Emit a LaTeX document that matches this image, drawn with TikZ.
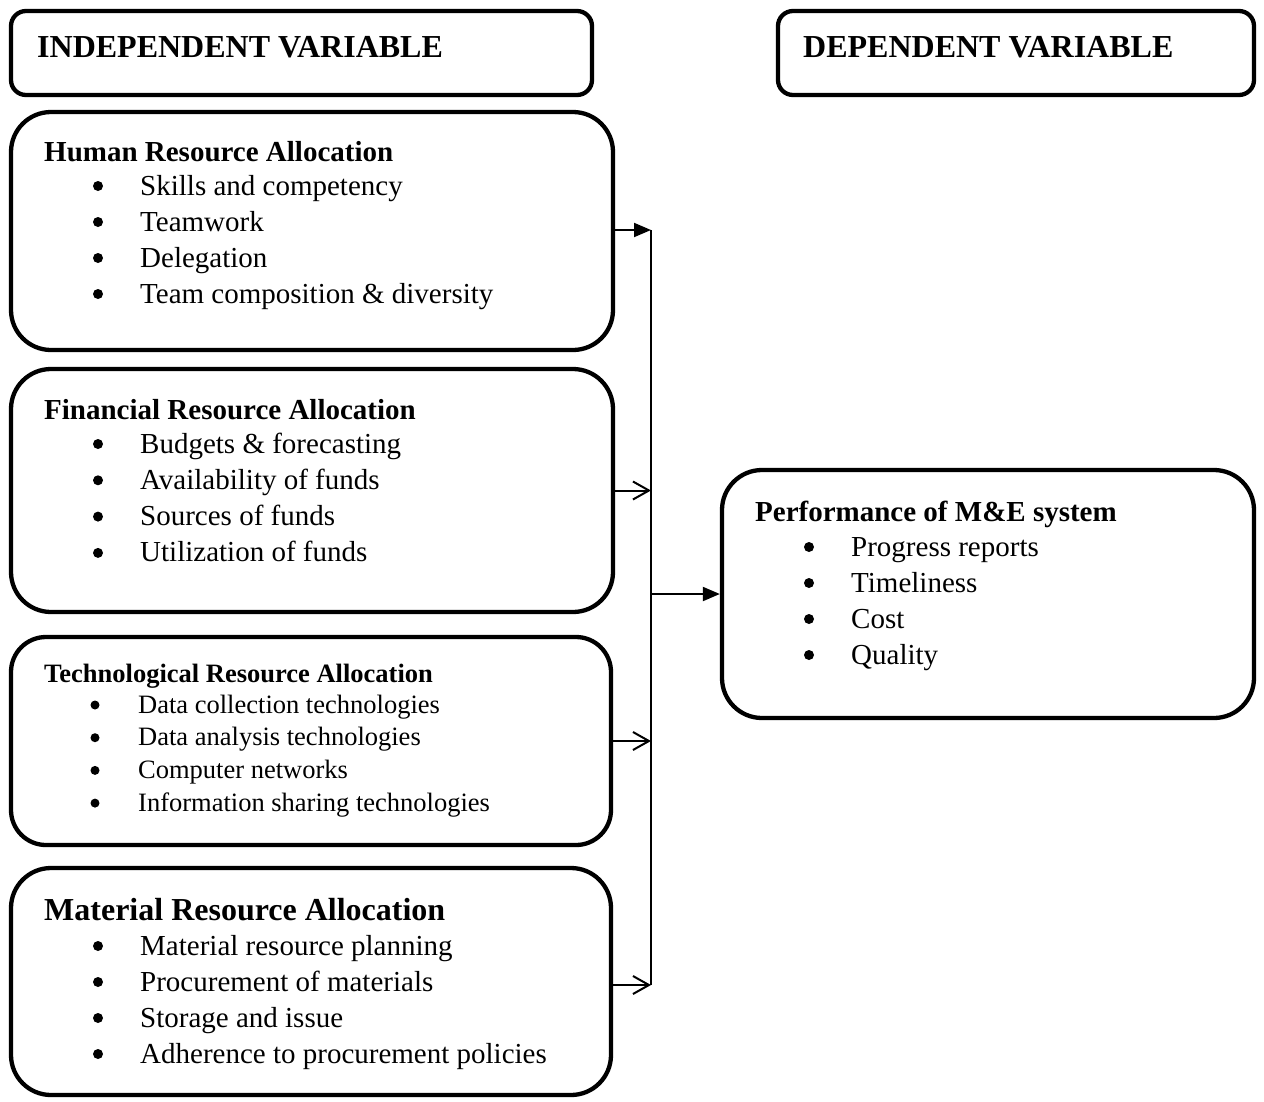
\documentclass[tikz,border=0pt]{standalone}
\usepackage{fontspec}
\setmainfont{Liberation Serif}
\usetikzlibrary{arrows.meta}
\begin{document}
\begin{tikzpicture}[x=1pt,y=-1pt,
  box/.style={draw,line width=4.3pt,rounded corners=40pt,inner sep=0pt},
  hbox/.style={box,rounded corners=15pt},
  txt/.style={anchor=base west,inner sep=0pt,font=\fontsize{29pt}{36pt}\selectfont},
  ttl/.style={txt,font=\fontsize{29pt}{36pt}\selectfont\bfseries},
  big/.style={txt,font=\fontsize{32pt}{38pt}\selectfont\bfseries},
  sm/.style={txt,font=\fontsize{26.5pt}{32pt}\selectfont},
  smt/.style={txt,font=\fontsize{26.5pt}{32pt}\selectfont\bfseries},
  bul/.style={circle,fill,inner sep=0pt,minimum size=10pt},
  sbul/.style={circle,fill,inner sep=0pt,minimum size=9pt},
  conn/.style={line width=2pt},
  fillarrow/.style={conn,-{Triangle[length=17pt,width=14pt]}},
  openarrow/.style={conn,-{Straight Barb[length=16pt,width=18pt,line width=2pt]}}]
\fill[white] (0,0) rectangle (1264,1101);
\useasboundingbox (0,0) rectangle (1264,1101);

% header boxes
\node[hbox,minimum width=581pt,minimum height=84pt] (ivh) at (301.5,53) {};
\node[big] (ivt) at (37,57) {INDEPENDENT VARIABLE};
\node[hbox,minimum width=476pt,minimum height=84pt] (dvh) at (1016,53) {};
\node[big] (dvt) at (803,57) {DEPENDENT VARIABLE};

% Human
\node[box,minimum width=602pt,minimum height=238pt] (hum) at (312,231) {};
\node[ttl] (humt) at (44,161) {Human Resource Allocation};
\foreach \t [count=\i] in {Skills and competency, Teamwork, Delegation, Team composition \& diversity}{
  \node[bul] (hb\i) at (98,{186+36*(\i-1)}) {};
  \node[txt] (hi\i) at (140,{195+36*(\i-1)}) {\t};
}

% Financial
\node[box,minimum width=602pt,minimum height=243pt] (fin) at (312,490.5) {};
\node[ttl] (fint) at (44,419) {Financial Resource Allocation};
\foreach \t [count=\i] in {Budgets \& forecasting, Availability of funds, Sources of funds, Utilization of funds}{
  \node[bul] (fb\i) at (98,{444+36.3*(\i-1)}) {};
  \node[txt] (fi\i) at (140,{453+36.3*(\i-1)}) {\t};
}

% Technological
\node[box,rounded corners=35pt,minimum width=600pt,minimum height=208pt] (tec) at (311,741) {};
\node[smt] (tect) at (44,682) {Technological Resource Allocation};
\foreach \t [count=\i] in {Data collection technologies, Data analysis technologies, Computer networks, Information sharing technologies}{
  \node[sbul] (tb\i) at (95,{705+32.7*(\i-1)}) {};
  \node[sm] (ti\i) at (138,{713+32.7*(\i-1)}) {\t};
}

% Material
\node[box,minimum width=600pt,minimum height=227pt] (mat) at (311,981.5) {};
\node[big] (matt) at (44,920) {Material Resource Allocation};
\foreach \t [count=\i] in {Material resource planning, Procurement of materials, Storage and issue, Adherence to procurement policies}{
  \node[bul] (mb\i) at (98,{946+36*(\i-1)}) {};
  \node[txt] (mi\i) at (140,{955+36*(\i-1)}) {\t};
}

% Performance
\node[box,minimum width=532pt,minimum height=248pt] (perf) at (988,594) {};
\node[ttl] (perft) at (755,521) {Performance of M\&E system};
\foreach \t [count=\i] in {Progress reports, Timeliness, Cost, Quality}{
  \node[bul] (pb\i) at (809,{547+36*(\i-1)}) {};
  \node[txt] (pi\i) at (851,{556+36*(\i-1)}) {\t};
}

% connectors
\coordinate (bustop) at (651,230);
\coordinate (busbot) at (651,985);
\draw[conn] (bustop) -- (busbot);
\draw[fillarrow] (hum.east |- bustop) -- (bustop);
\draw[openarrow] (fin.east) -- (fin.east -| bustop);
\draw[openarrow] (tec.east) -- (tec.east -| bustop);
\draw[openarrow] (mat.east |- busbot) -- (busbot);
\draw[fillarrow] (perf.west -| bustop) -- (perf.west);
\end{tikzpicture}
\end{document}
